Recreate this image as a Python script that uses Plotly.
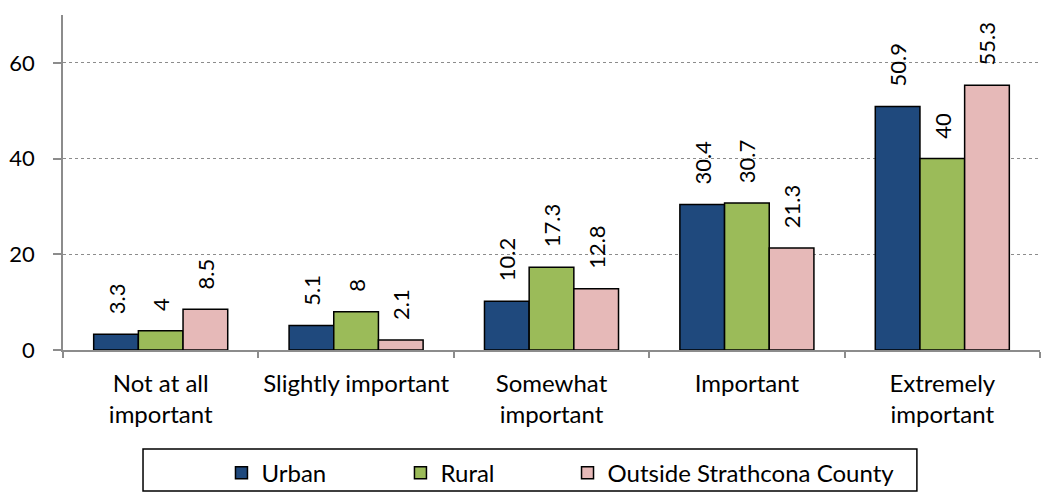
import plotly.graph_objects as go

categories = ["Not at all<br>important", "Slightly important", "Somewhat<br>important",
              "Important", "Extremely<br>important"]
urban = [3.3, 5.1, 10.2, 30.4, 50.9]
rural = [4, 8, 17.3, 30.7, 40]
outside = [8.5, 2.1, 12.8, 21.3, 55.3]

series = [("Urban", urban, "#1F497D"),
          ("Rural", rural, "#9BBB59"),
          ("Outside Strathcona County", outside, "#E6B9B8")]

font_name = "Lato"
# the page body adds an 8px offset, so the figure is 8px smaller than the window
legend_x = [0.1622, 0.3454, 0.5164]

fig = go.Figure()
for i, (name, vals, col) in enumerate(series):
    fig.add_trace(go.Bar(
        name=name, x=categories, y=vals,
        marker=dict(color=col, line=dict(color="black", width=1.5)),
        text=[str(v) for v in vals], texttemplate="\u00a0\u00a0\u00a0%{text}",
        textposition="outside", textangle=-90, constraintext="none",
        textfont=dict(size=22, color="black", family=font_name),
        cliponaxis=False, showlegend=True,
        legend="legend" if i == 0 else "legend%d" % (i + 1),
    ))

# legends sit in container coords so they don't push the bottom margin
legend_style = dict(orientation="h", yref="container", y=0.043,
                    xanchor="left", yanchor="middle",
                    font=dict(size=24, family=font_name), bgcolor="rgba(0,0,0,0)")

fig.update_layout(
    barmode="group", bargap=0.314, bargroupgap=0,
    width=1042, height=486,
    margin=dict(l=55, r=10, t=7, b=144),
    plot_bgcolor="white", paper_bgcolor="white",
    font=dict(family=font_name, size=24, color="black"),
    showlegend=True,
    legend=dict(legend_style, x=legend_x[0]),
    legend2=dict(legend_style, x=legend_x[1]),
    legend3=dict(legend_style, x=legend_x[2]),
    shapes=[dict(type="rect", xref="paper", yref="paper",
                 x0=0.0819, x1=0.874, y0=-0.421, y1=-0.2955,
                 line=dict(color="black", width=1.5))],
)
fig.update_xaxes(showline=True, linecolor="#8c8c8c", linewidth=1.5, tickangle=0,
                 automargin=False,
                 ticks="outside", tickson="boundaries", ticklen=6, tickcolor="#8c8c8c",
                 tickwidth=1.5, tickfont=dict(size=24), ticklabelstandoff=11)
fig.update_yaxes(range=[0, 70], tickvals=[0, 20, 40, 60], automargin=False,
                 showline=True, linecolor="#8c8c8c", linewidth=1.5,
                 ticks="outside", ticklen=8, tickcolor="#8c8c8c", tickwidth=1.5,
                 showgrid=True, gridcolor="#8c8c8c", griddash="dot", gridwidth=1,
                 zeroline=False, tickfont=dict(size=22), ticklabelstandoff=14)

fig.write_html("out.html")
